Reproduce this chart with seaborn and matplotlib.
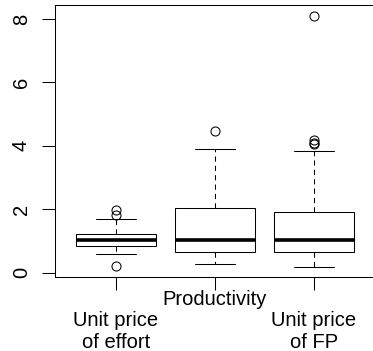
import matplotlib
matplotlib.use("Agg")
import matplotlib.pyplot as plt
import seaborn as sns
import pandas as pd

# Observed values for each measure
unit_price_effort = [0.21, 0.59, 0.75, 0.83, 0.90, 0.97, 1.02, 1.08, 1.15, 1.21,
                     1.70, 1.82, 1.98]
productivity = [0.27, 0.45, 0.55, 0.64, 0.80, 0.92, 1.02, 1.30, 1.70, 2.05,
                2.90, 3.90, 4.46]
unit_price_fp = [0.18, 0.30, 0.40, 0.48, 0.56, 0.64, 0.70, 0.78, 0.86, 0.94,
                 1.02, 1.15, 1.30, 1.48, 1.70, 1.92, 3.83, 4.05, 4.10, 4.19, 8.10]

categories = ["effort", "productivity", "fp"]
tick_labels = ["\nUnit price\nof effort", "Productivity", "\nUnit price\nof FP"]
y_ticks = [0, 2, 4, 6, 8]

df = pd.DataFrame({
    "measure": (["effort"] * len(unit_price_effort)
                + ["productivity"] * len(productivity)
                + ["fp"] * len(unit_price_fp)),
    "value": unit_price_effort + productivity + unit_price_fp,
})

sns.set_style("white")
plt.rcParams["font.family"] = ["Liberation Sans", "DejaVu Sans"]
plt.rcParams["text.color"] = "black"
plt.rcParams["xtick.color"] = "black"
plt.rcParams["ytick.color"] = "black"

W, H = 373, 351
fig = plt.figure(figsize=(W / 100, H / 100), dpi=100)
ax = fig.add_axes([55 / W, 1 - 277 / H, (375 - 55) / W, (277 - 5) / H])

sns.boxplot(
    data=df, x="measure", y="value", order=categories, ax=ax,
    width=0.8, color="white", linecolor="black", linewidth=0.75,
    fliersize=6.5,
    whiskerprops=dict(linestyle=(0, (5, 4)), linewidth=0.75),
    capprops=dict(linewidth=0.75),
    medianprops=dict(linewidth=2.6, color="black"),
    flierprops=dict(marker="o", markerfacecolor="none",
                    markeredgecolor="black", markeredgewidth=0.75),
)

ax.set_xlim(-0.616, 2.616)
ax.set_ylim(-0.136, 8.44)
ax.set_xlabel("")
ax.set_ylabel("")

ax.set_yticks(y_ticks)
ax.set_yticklabels([str(t) for t in y_ticks], rotation=90, va="center",
                   fontsize=14.5, color="black")
ax.set_xticks(range(len(categories)))
ax.set_xticklabels(tick_labels, fontsize=14.5, linespacing=1.18, color="black")

ax.tick_params(axis="both", direction="out", length=9.4, width=0.75,
               color="black", left=True, bottom=True)
ax.tick_params(axis="y", pad=8)
ax.tick_params(axis="x", pad=-0.3)

for side in ["left", "bottom", "top", "right"]:
    ax.spines[side].set_visible(True)
    ax.spines[side].set_color("black")
    ax.spines[side].set_linewidth(0.75)

fig.savefig("out.png", dpi=100)
